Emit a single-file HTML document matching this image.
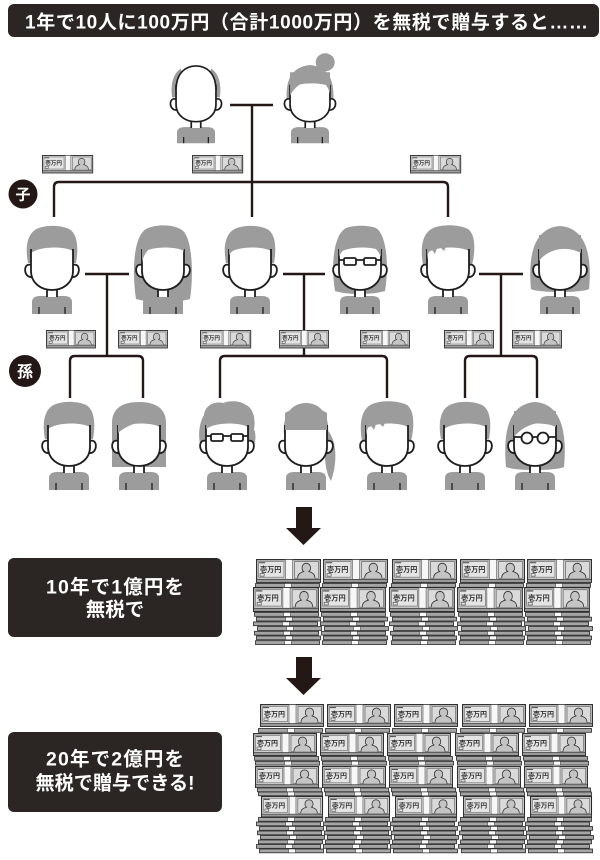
<!DOCTYPE html>
<html><head><meta charset="utf-8"><style>
html,body{margin:0;padding:0;background:#fff;}
svg{display:block;}
</style></head><body>
<svg width="600" height="860" viewBox="0 0 600 860" xmlns="http://www.w3.org/2000/svg" xmlns:xlink="http://www.w3.org/1999/xlink">
<defs>
<g id="face">
  <path d="M-21,38 C-29,35 -29,51 -20,50" fill="#fff" stroke="#1e1e1e" stroke-width="1.8"/>
  <path d="M21,38 C29,35 29,51 20,50" fill="#fff" stroke="#1e1e1e" stroke-width="1.8"/>
  <path d="M-20,87 L-20,75 C-20,71 -17,69 -12,69 L12,69 C17,69 20,71 20,75 L20,87 Z" fill="#9c9c9c"/>
  <rect x="-5" y="55" width="10" height="15" fill="#fff"/>
  <path d="M-5,60 V70 M5,60 V70" stroke="#1e1e1e" stroke-width="1.8" fill="none"/>
  <path d="M-21,26 C-12,19 12,19 21,24 L21,44 C21,56 11,63 0,63 C-11,63 -21,56 -21,44 Z" fill="#fff"/>
  <path d="M-21,22 V44 C-21,56 -11,63 0,63 C11,63 21,56 21,44 V22" fill="none" stroke="#1e1e1e" stroke-width="1.8"/>
  <path d="M-13,80 V87 M13,80 V87" stroke="#1e1e1e" stroke-width="1.3"/>
</g>
<path id="hm1" d="M-24,36 C-27,20 -25,5 -13,1 C-5,-2 9,-2 17,2 C25,6 27,20 24,36 Z" fill="#9c9c9c"/>
<path id="hm2" d="M-25,38 C-28,20 -26,4 -12,0 C-2,-3 12,-2 20,2 C27,7 28,22 24,38 Z" fill="#9c9c9c"/>
<path id="hm2f" d="M-21,32 L-18,20 L-13,27 L-10,18 L-4,24 L0,16 L21,20 L21,10 L-21,10 Z" fill="#9c9c9c"/>
<g id="glr" stroke="#1e1e1e" stroke-width="1.8" fill="none">
  <rect x="-16" y="31" width="12" height="7" rx="1.5"/><rect x="4" y="31" width="12" height="7" rx="1.5"/>
  <path d="M-4,33 H4 M-16,33 H-21 M16,33 H21"/>
</g>
<g id="glc" stroke="#1e1e1e" stroke-width="1.8" fill="none">
  <circle cx="-8" cy="35" r="5.5"/><circle cx="8" cy="35" r="5.5"/>
  <path d="M-2.5,34 H2.5 M-13.5,34 H-21 M13.5,34 H21"/>
</g>
<g id="bf">
  <rect x="0.6" y="0.6" width="62.8" height="21.8" fill="#d0d0d0" stroke="#262626" stroke-width="1.1"/>
  <rect x="2.5" y="2.5" width="25" height="15" fill="#e4e4e4" stroke="#666" stroke-width="0.6"/>
  <text x="4" y="12.5" font-size="7" font-weight="bold" fill="#333" font-family="'Liberation Sans','Noto Sans CJK JP',sans-serif">壱万円</text>
  <rect x="4" y="14" width="4" height="2.5" fill="none" stroke="#444" stroke-width="0.6"/>
  <path d="M3,3.6 h6 M55,3.6 h6" stroke="#444" stroke-width="1"/>
  <rect x="29" y="0.6" width="7" height="21.8" fill="#f7f7f7" stroke="#555" stroke-width="0.6"/>
  <rect x="38" y="2.5" width="23.5" height="16" fill="#dadada" stroke="#555" stroke-width="0.6"/>
  <path d="M41,18.5 C41,14 44,13 47,12 C44.5,10.5 44.5,4.5 49.5,4 C54.5,4.5 54.5,10.5 52,12 C55,13 58,14 58,18.5" fill="#c4c4c4" stroke="#333" stroke-width="0.8"/>
  <rect x="0.6" y="19.5" width="62.8" height="2.9" fill="#9a9a9a" stroke="#262626" stroke-width="0.6"/>
</g>
<g id="be">
  <rect x="0.5" y="0.5" width="64" height="3.8" fill="#a5a5a5" stroke="#262626" stroke-width="0.8"/>
  <rect x="29.5" y="0.5" width="7" height="3.8" fill="#fafafa" stroke="#262626" stroke-width="0.5"/>
</g>
<g id="stack1">
  <use xlink:href="#bf" href="#bf" transform="translate(0,559) scale(1.016,1.04)"/>
  <use xlink:href="#be" href="#be" x="-1" y="583"/>
  <use xlink:href="#bf" href="#bf" transform="translate(-3,587) scale(1.03,1.09)"/>
  <use xlink:href="#be" href="#be" x="-2" y="612"/>
  <use xlink:href="#be" href="#be" x="0" y="616.7"/>
  <use xlink:href="#be" href="#be" x="-3" y="621.4"/>
  <use xlink:href="#be" href="#be" x="1" y="626.1"/>
  <use xlink:href="#be" href="#be" x="-2" y="630.8"/>
  <use xlink:href="#be" href="#be" x="0" y="635.5"/>
  <use xlink:href="#be" href="#be" x="-1" y="640.2"/>
</g>
<g id="stack2">
  <use xlink:href="#bf" href="#bf" transform="translate(2,704)"/>
  <use xlink:href="#be" href="#be" x="0" y="728"/>
  <use xlink:href="#bf" href="#bf" transform="translate(-5,733)"/>
  <use xlink:href="#be" href="#be" x="-4" y="756"/>
  <use xlink:href="#be" href="#be" x="-3" y="760.8"/>
  <use xlink:href="#bf" href="#bf" transform="translate(-3,766) scale(1,0.96)"/>
  <use xlink:href="#be" href="#be" x="-1" y="787.5"/>
  <use xlink:href="#be" href="#be" x="0" y="791.5"/>
  <use xlink:href="#bf" href="#bf" transform="translate(3,796) scale(0.97,0.93)"/>
  <use xlink:href="#be" href="#be" x="0" y="817"/>
  <use xlink:href="#be" href="#be" x="-2" y="821.5"/>
  <use xlink:href="#be" href="#be" x="1" y="826"/>
  <use xlink:href="#be" href="#be" x="-1" y="830.5"/>
  <use xlink:href="#be" href="#be" x="2" y="835"/>
  <use xlink:href="#be" href="#be" x="0" y="839.5"/>
  <use xlink:href="#be" href="#be" x="-2" y="844"/>
  <use xlink:href="#be" href="#be" x="1" y="848.5"/>
</g>
</defs>

<rect width="600" height="860" fill="#fff"/>

<!-- header -->
<rect x="8" y="4" width="591" height="33" rx="6" fill="#2b2524"/>
<text x="25" y="28.5" textLength="563" lengthAdjust="spacing" font-size="19" font-weight="bold" fill="#fff" font-family="'Liberation Sans','Noto Sans CJK JP',sans-serif">1年で10人に100万円（合計1000万円）を無税で贈与すると……</text>

<!-- tree lines -->
<g stroke="#231815" stroke-width="2.4" fill="none">
  <path d="M230,105 H273 M252,105 V217"/>
  <path d="M54,217 V187 Q54,182 59,182 H443 Q448,182 448,187 V217"/>
  <path d="M85,274 H129 M107,274 V356"/>
  <path d="M283,274 H325 M304,274 V356"/>
  <path d="M479,274 H523 M501,274 V356"/>
  <path d="M70,398 V361 Q70,356 75,356 H138 Q143,356 143,361 V398"/>
  <path d="M220,398 V361 Q220,356 225,356 H382 Q387,356 387,361 V398"/>
  <path d="M465,398 V361 Q465,356 470,356 H532 Q537,356 537,361 V398"/>
</g>

<!-- small money bundles -->
<use xlink:href="#bf" href="#bf" transform="translate(42,155) scale(0.8,0.8)"/>
<use xlink:href="#bf" href="#bf" transform="translate(192,155) scale(0.8,0.8)"/>
<use xlink:href="#bf" href="#bf" transform="translate(410,155) scale(0.8,0.8)"/>
<use xlink:href="#bf" href="#bf" transform="translate(46,330) scale(0.78,0.8)"/>
<use xlink:href="#bf" href="#bf" transform="translate(118,330) scale(0.78,0.8)"/>
<use xlink:href="#bf" href="#bf" transform="translate(200,330) scale(0.8,0.8)"/>
<use xlink:href="#bf" href="#bf" transform="translate(279,330) scale(0.78,0.8)"/>
<use xlink:href="#bf" href="#bf" transform="translate(360,330) scale(0.78,0.8)"/>
<use xlink:href="#bf" href="#bf" transform="translate(444,330) scale(0.78,0.8)"/>
<use xlink:href="#bf" href="#bf" transform="translate(512,330) scale(0.78,0.8)"/>

<!-- labels -->
<circle cx="23" cy="194" r="14.5" fill="#231815"/>
<text x="23" y="199.5" text-anchor="middle" font-size="15" font-weight="bold" fill="#fff" font-family="'Liberation Sans','Noto Sans CJK JP',sans-serif">子</text>
<circle cx="25" cy="371" r="16" fill="#231815"/>
<text x="25" y="377" text-anchor="middle" font-size="16" font-weight="bold" fill="#fff" font-family="'Liberation Sans','Noto Sans CJK JP',sans-serif">孫</text>

<!-- grandparents -->
<g transform="translate(196,65) scale(0.95,0.9)">
  <path d="M-21,36 L-25,36 C-27,24 -25,10 -16,4 L-14,10 C-19,14 -21,20 -21,26 Z" fill="#9c9c9c"/>
  <path d="M21,36 L25,36 C27,24 25,10 16,4 L14,10 C19,14 21,20 21,26 Z" fill="#9c9c9c"/>
  <use xlink:href="#face" href="#face"/>
  <path d="M-21,28 C-21,9 -11,1 0,1 C11,1 21,9 21,28 Z" fill="#fff"/>
  <path d="M-21,28 C-21,9 -11,1 0,1 C11,1 21,9 21,28" fill="none" stroke="#1e1e1e" stroke-width="1.8"/>
</g>
<g transform="translate(310,65) scale(0.95,0.9)">
  <circle cx="16" cy="-3" r="10" fill="#9c9c9c"/>
  <path d="M-24,44 C-27,18 -20,2 0,0 C20,2 27,18 24,44 Z" fill="#9c9c9c"/>
  <use xlink:href="#face" href="#face"/>
  <path d="M-21,34 C-14,20 -2,16 8,14 C15,18 20,26 21,32 L21,8 L-21,8 Z" fill="#9c9c9c"/>
</g>

<!-- children -->
<g transform="translate(52,227)">
  <use xlink:href="#hm1" href="#hm1"/><use xlink:href="#face" href="#face"/>
</g>
<g transform="translate(163,227)">
  <path d="M-27,72 C-31,46 -30,10 -17,2 C-7,-3 10,-3 19,3 C29,10 31,46 27,72 C12,76 -12,76 -27,72 Z" fill="#9c9c9c"/>
  <use xlink:href="#face" href="#face"/>
  <path d="M-21,36 C-19,22 -6,14 10,12 C16,14 20,20 21,26 L21,8 L-21,8 Z" fill="#9c9c9c"/>
</g>
<g transform="translate(250,227)">
  <use xlink:href="#hm1" href="#hm1"/><use xlink:href="#face" href="#face"/>
  <path d="M-21,28 C-14,18 -4,18 4,20 C10,14 16,14 21,22 L21,8 L-21,8 Z" fill="#9c9c9c"/>
</g>
<g transform="translate(360,227)">
  <path d="M-25,64 C-29,40 -27,8 -14,1 C-6,-2 8,-2 16,1 C27,8 29,40 25,64 C12,68 -12,68 -25,64 Z" fill="#9c9c9c"/>
  <use xlink:href="#face" href="#face"/>
  <path d="M-21,30 C-16,18 -6,15 0,13 C6,15 16,18 21,30 L21,8 L-21,8 Z" fill="#9c9c9c"/>
  <use xlink:href="#glr" href="#glr"/>
</g>
<g transform="translate(448,227)">
  <use xlink:href="#hm2" href="#hm2"/><use xlink:href="#face" href="#face"/>
  <use xlink:href="#hm2f" href="#hm2f"/>
</g>
<g transform="translate(560,227)">
  <path d="M-29,62 C-32,30 -27,1 0,-1 C27,1 32,30 29,62 C22,66 -22,66 -29,62 Z" fill="#9c9c9c"/>
  <use xlink:href="#face" href="#face"/>
  <path d="M-21,34 C-12,22 6,18 21,26 L21,8 L-21,8 Z" fill="#9c9c9c"/>
</g>

<!-- grandchildren -->
<g transform="translate(69,403)">
  <use xlink:href="#hm1" href="#hm1"/><use xlink:href="#face" href="#face"/>
</g>
<g transform="translate(139,403)">
  <path d="M-27,64 L-27,20 C-27,5 -16,-1 0,-1 C16,-1 27,5 27,20 L27,64 Z" fill="#9c9c9c"/>
  <use xlink:href="#face" href="#face"/>
  <path d="M-21,30 C-12,22 0,18 21,16 L21,8 L-21,8 Z" fill="#9c9c9c"/>
</g>
<g transform="translate(227,403)">
  <path d="M-25,46 C-30,36 -28,20 -23,12 C-22,2 -12,-2 -4,0 C4,-3 14,-2 19,2 C26,5 29,16 27,26 C30,34 28,42 25,46 Z" fill="#9c9c9c"/>
  <use xlink:href="#face" href="#face"/>
  <path d="M-21,26 C-14,20 -6,22 0,18 C8,22 14,18 21,22 L21,8 L-21,8 Z" fill="#9c9c9c"/>
  <use xlink:href="#glr" href="#glr"/>
</g>
<g transform="translate(306,403)">
  <path d="M17,24 C30,30 33,56 25,78 C21,72 19,62 19,52 C16,42 15,32 17,24 Z" fill="#9c9c9c"/>
  <path d="M-22,32 C-24,10 -13,0 0,0 C13,0 24,10 22,32 Z" fill="#9c9c9c"/>
  <use xlink:href="#face" href="#face"/>
  <path d="M-21,27 L21,27 L21,10 C14,4 -14,4 -21,10 Z" fill="#9c9c9c"/>
</g>
<g transform="translate(387,403)">
  <use xlink:href="#hm2" href="#hm2"/><use xlink:href="#face" href="#face"/>
  <use xlink:href="#hm2f" href="#hm2f"/>
</g>
<g transform="translate(465,403)">
  <use xlink:href="#hm1" href="#hm1"/><use xlink:href="#face" href="#face"/>
</g>
<g transform="translate(535,403)">
  <path d="M-29,64 C-32,30 -27,1 0,-1 C27,1 32,30 29,64 C20,68 -20,68 -29,64 Z" fill="#9c9c9c"/>
  <use xlink:href="#face" href="#face"/>
  <path d="M-21,34 C-10,20 10,16 21,24 L21,8 L-21,8 Z" fill="#9c9c9c"/>
  <use xlink:href="#glc" href="#glc"/>
</g>

<!-- arrows -->
<polygon points="296,507 312,507 312,528 321,528 303.5,545 286,528 296,528" fill="#231815"/>
<polygon points="296,657 312,657 312,678 321,678 303.5,695 286,678 296,678" fill="#231815"/>

<!-- box 1 -->
<rect x="8" y="558" width="214" height="79" rx="6" fill="#2b2524"/>
<text x="115" y="593.5" text-anchor="middle" textLength="138" lengthAdjust="spacing" font-size="19.5" font-weight="bold" fill="#fff" font-family="'Liberation Sans','Noto Sans CJK JP',sans-serif">10年で1億円を</text>
<text x="115" y="616" text-anchor="middle" font-size="19.5" font-weight="bold" fill="#fff" font-family="'Liberation Sans','Noto Sans CJK JP',sans-serif">無税で</text>

<!-- box 2 -->
<rect x="8" y="732" width="214" height="80" rx="6" fill="#2b2524"/>
<text x="115" y="765.5" text-anchor="middle" textLength="138" lengthAdjust="spacing" font-size="19.5" font-weight="bold" fill="#fff" font-family="'Liberation Sans','Noto Sans CJK JP',sans-serif">20年で2億円を</text>
<text x="115" y="789.5" text-anchor="middle" textLength="159" lengthAdjust="spacingAndGlyphs" font-size="19.5" font-weight="bold" fill="#fff" font-family="'Liberation Sans','Noto Sans CJK JP',sans-serif">無税で贈与できる!</text>

<!-- money stacks group 1 -->
<use xlink:href="#stack1" href="#stack1" x="256"/>
<use xlink:href="#stack1" href="#stack1" x="323"/>
<use xlink:href="#stack1" href="#stack1" x="392"/>
<use xlink:href="#stack1" href="#stack1" x="460"/>
<use xlink:href="#stack1" href="#stack1" x="527"/>

<!-- money stacks group 2 -->
<use xlink:href="#stack2" href="#stack2" x="258"/>
<use xlink:href="#stack2" href="#stack2" x="325"/>
<use xlink:href="#stack2" href="#stack2" x="392"/>
<use xlink:href="#stack2" href="#stack2" x="460"/>
<use xlink:href="#stack2" href="#stack2" x="527"/>
</svg>
</body></html>
